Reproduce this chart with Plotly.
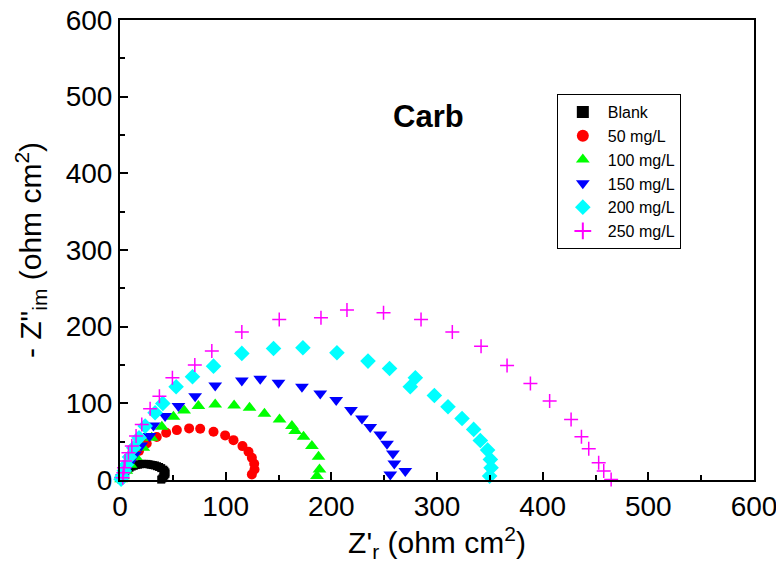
import plotly.graph_objects as go

# ---- data ----
blank_x = [1, 2, 3, 5, 7, 9, 11, 13, 15, 17, 19, 21, 23, 25, 27, 29, 31, 33, 35, 37, 39, 41, 42, 43, 43, 42, 41, 40, 39]
blank_y = [1, 4, 8, 11, 14, 16, 17.5, 18.5, 19.5, 20, 20.5, 21, 21, 21, 20.5, 20, 19.5, 19, 18, 17, 15.5, 13.5, 12, 10, 8, 6, 4, 2, 0.5]

c50_x = [1, 2, 4, 6, 9, 13, 18, 25.3, 34.8, 43.7, 53.8, 65.4, 75.9, 88.5, 99.5, 107.4, 115.9, 121.6, 124.8, 127.0, 127.3, 124.8]
c50_y = [1, 5, 11, 17, 24, 31, 38, 47.7, 56.0, 61.6, 65.1, 67.3, 66.9, 63.0, 58.2, 52.0, 44.2, 36.9, 29.1, 21.2, 13.8, 7.3]

c100_x = [1, 3, 6, 10, 15, 22, 30, 39.6, 50.6, 60.7, 74.2, 90.1, 108.0, 122.6, 136.7, 151.0, 162.7, 165.8, 173.7, 181.6, 187.9, 188.8, 186.4]
c100_y = [1, 5, 12, 20, 30, 42, 55, 69.5, 82.5, 90.8, 96.4, 98.6, 97.3, 94.3, 86.5, 79.0, 70.3, 63.8, 56.5, 44.2, 30.4, 13.8, 5.1]

c150_x = [-1.5, 1, 2, 5, 9, 14, 20, 27.9, 31.7, 42.7, 55.3, 71.1, 90.1, 115.3, 132.7, 150.0, 172.2, 189.5, 204.6, 218.6, 229.0, 236.8, 246.3, 252.7, 258.3, 259.6, 255.8, 270.0, 271.6]
c150_y = [22.5, 0, 4, 12, 22, 33, 45, 57.3, 71.2, 83.4, 96.4, 109.4, 123.4, 129.9, 132.1, 126.9, 121.7, 112.9, 104.2, 91.2, 80.3, 69.0, 59.5, 47.3, 34.7, 21.6, 7.3, 11.6, -0.5]

c200_x = [1, 2, 4, 6, 9, 13, 18, 23.8, 33.2, 40.5, 53.1, 68.6, 88.5, 115.3, 145.3, 173.1, 205.3, 234.7, 255.1, 279.5, 274.7, 297.5, 310.4, 323.7, 334.7, 341.0, 347.9, 350.5, 351.2, 349.8]
c200_y = [1, 5, 12, 20, 30, 42, 55, 70.3, 87.8, 99.9, 121.7, 134.7, 148.5, 165.1, 171.6, 172.5, 166.0, 155.1, 145.5, 133.4, 121.7, 110.3, 95.6, 80.3, 66.0, 51.6, 39.0, 26.9, 16.0, 5.1]

c250_x = [2.6, 3.2, 3.9, 4.8, 8.0, 11.2, 15.2, 20.6, 28.5, 37.3, 49.6, 70.8, 86.9, 115.3, 150.7, 190.2, 214.8, 249.4, 284.9, 314.5, 341.7, 366.3, 388.4, 406.6, 426.9, 436.7, 443.6, 453.0, 457.8, 464.8]
c250_y = [3.0, 9.5, 16.0, 24.7, 35.6, 44.2, 57.3, 72.5, 93.0, 109.4, 133.4, 149.9, 168.1, 192.9, 209.4, 211.6, 221.6, 218.2, 209.4, 192.9, 174.6, 149.4, 126.0, 102.9, 79.0, 56.5, 40.8, 22.6, 11.6, 0.8]

names = ["Blank", "50 mg/L", "100 mg/L", "150 mg/L", "200 mg/L", "250 mg/L"]
xs = [blank_x, c50_x, c100_x, c150_x, c200_x, c250_x]
ys = [blank_y, c50_y, c100_y, c150_y, c200_y, c250_y]
colors = ["#000000", "#ff0000", "#00ff00", "#0000ff", "#00ffff", "#ff00ff"]
symbols = ["square", "circle", "triangle-up", "triangle-down", "diamond", "cross-thin"]
sizes = [8, 10, 12, 12, 12, 10]

tick_vals = [0, 100, 200, 300, 400, 500, 600]

fig = go.Figure()
for x, y, n, c, s, sz in zip(xs, ys, names, colors, symbols, sizes):
    if s == "cross-thin":
        marker = dict(symbol=s, size=sz, color=c, line=dict(color=c, width=1.5))
    else:
        marker = dict(symbol=s, size=sz, color=c, line=dict(width=0))
    fig.add_trace(go.Scatter(x=x, y=y, mode="markers", name=n, marker=marker, cliponaxis=False))

font_family = "Liberation Sans, Arial, sans-serif"
axis_common = dict(
    range=[0, 600], tickvals=tick_vals, ticks="inside", ticklen=8, tickwidth=1.5,
    tickcolor="black", showline=True, linecolor="black", linewidth=2, mirror=True,
    showgrid=False, zeroline=False, automargin=False, ticklabeloverflow="allow",
    tickfont=dict(size=28, color="black", family=font_family),
    minor=dict(ticks="inside", ticklen=5, tickwidth=1.5, tickcolor="black", dtick=50, showgrid=False),
)

fig.update_layout(
    width=776, height=566,
    margin=dict(l=120, r=22, t=20, b=86),
    paper_bgcolor="white", plot_bgcolor="white",
    font=dict(family=font_family, color="black"),
    xaxis=dict(title=dict(text="Z'<sub>r</sub> (ohm cm<sup>2</sup>)", font=dict(size=30), standoff=9), **axis_common),
    yaxis=dict(title=dict(text="- Z\"<sub>im</sub> (ohm cm<sup>2</sup>)", font=dict(size=30), standoff=15), **axis_common),
    legend=dict(x=0.689, y=0.839, xanchor="left", yanchor="top", bordercolor="black", borderwidth=1,
                bgcolor="white", font=dict(size=16, color="black"), itemsizing="constant", itemwidth=40),
    annotations=[dict(text="<b>Carb</b>", x=0.486, y=0.79, xref="paper", yref="paper",
                      xanchor="center", yanchor="middle",
                      showarrow=False, font=dict(size=31, color="black"))],
)

fig.write_html("out.html")
